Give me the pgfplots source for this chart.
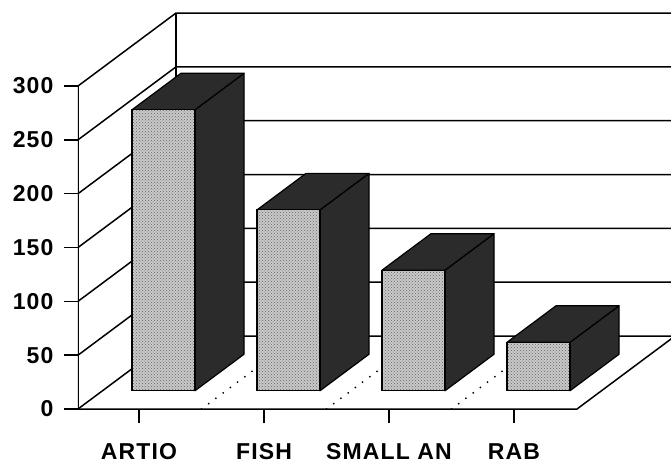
\documentclass[border=0pt]{standalone}
\usepackage{pgfplots}
\pgfplotsset{compat=1.18}
\usepackage{pgfplotstable}
\usetikzlibrary{patterns}
\usepackage{fontspec}
\setmainfont{Liberation Sans}
\newfontfamily\lblfont[LetterSpace=5]{Liberation Sans}
\definecolor{facefront}{HTML}{C9C9C9}
\definecolor{facedark}{HTML}{2B2B2B}

% category index, value
\pgfplotstableread{
c v
0 261
1 168
2 112
3 45
}\bardata

\begin{document}
\begin{tikzpicture}[x=1pt,y=1pt]
\begin{axis}[
  name=ax,
  scale only axis,
  width=593pt, height=409pt,
  xmin=-0.488, xmax=4.256,
  ymin=0, ymax=379.9,
  clip=true,
  axis x line*=bottom, axis y line*=left,
  axis line style={draw=none},
  xtick={0,1,2,3},
  xticklabels={ARTIO, FISH, SMALL AN, RAB},
  ytick={0,50,...,300},
  tick align=outside,
  major tick length=14pt,
  tick style={line width=1.5pt, black},
  xticklabel style={font=\lblfont\bfseries\fontsize{23}{27}\selectfont, yshift=-17pt},
  yticklabel style={font=\lblfont\bfseries\fontsize{23}{27}\selectfont, xshift=-7pt},
  /pgf/number format/assume math mode=true,
]
% walls and floor
\addplot[black, line width=1.5pt] coordinates {(-0.488,0) (-0.488,300)};
\addplot[black, line width=1.5pt] coordinates {(0.296,67.8) (0.296,367.8)};
\addplot[black, line width=1.5pt] coordinates {(-0.488,0) (3.504,0) (4.288,67.8)};
\pgfplotsinvokeforeach{0,50,...,300}{
  \addplot[black, line width=1.5pt] coordinates {(-0.488,#1) (0.296,#1+67.8) (4.3,#1+67.8)};
}
% dotted floor dividers
\pgfplotsinvokeforeach{0.5,1.5,2.5}{
  \addplot[black, line width=2pt, line cap=round, dash pattern=on 0pt off 9pt] coordinates {(#1,0) (#1+0.784,67.8)};
}
% bars
\pgfplotsinvokeforeach{0,1,2,3}{
  \pgfplotstablegetelem{#1}{v}\of\bardata
  \pgfmathsetmacro\ytop{16.95+\pgfplotsretval}
  \pgfmathsetmacro\ytopb{50.85+\pgfplotsretval}
  \pgfmathsetmacro\xl{#1-0.056}
  \pgfmathsetmacro\xr{#1+0.448}
  \pgfmathsetmacro\xrb{#1+0.840}
  \pgfmathsetmacro\xlb{#1+0.336}
  \edef\temp{
    \noexpand\addplot[fill=facedark, draw=black, line width=1.2pt, line join=round] coordinates {(\xr,16.95) (\xrb,50.85) (\xrb,\ytopb) (\xr,\ytop)} --cycle;
    \noexpand\addplot[fill=facedark, draw=black, line width=1.2pt, line join=round] coordinates {(\xl,\ytop) (\xr,\ytop) (\xrb,\ytopb) (\xlb,\ytopb)} --cycle;
    \noexpand\addplot[fill=facefront, postaction={pattern=crosshatch dots, pattern color=black!60}, draw=black, line width=1.2pt, line join=round] coordinates {(\xl,16.95) (\xr,16.95) (\xr,\ytop) (\xl,\ytop)} --cycle;
  }
  \temp
}
\end{axis}
\pgfresetboundingbox
\path ([xshift=-78pt]ax.north west) rectangle ([yshift=-54pt]ax.south east);
\end{tikzpicture}
\end{document}
